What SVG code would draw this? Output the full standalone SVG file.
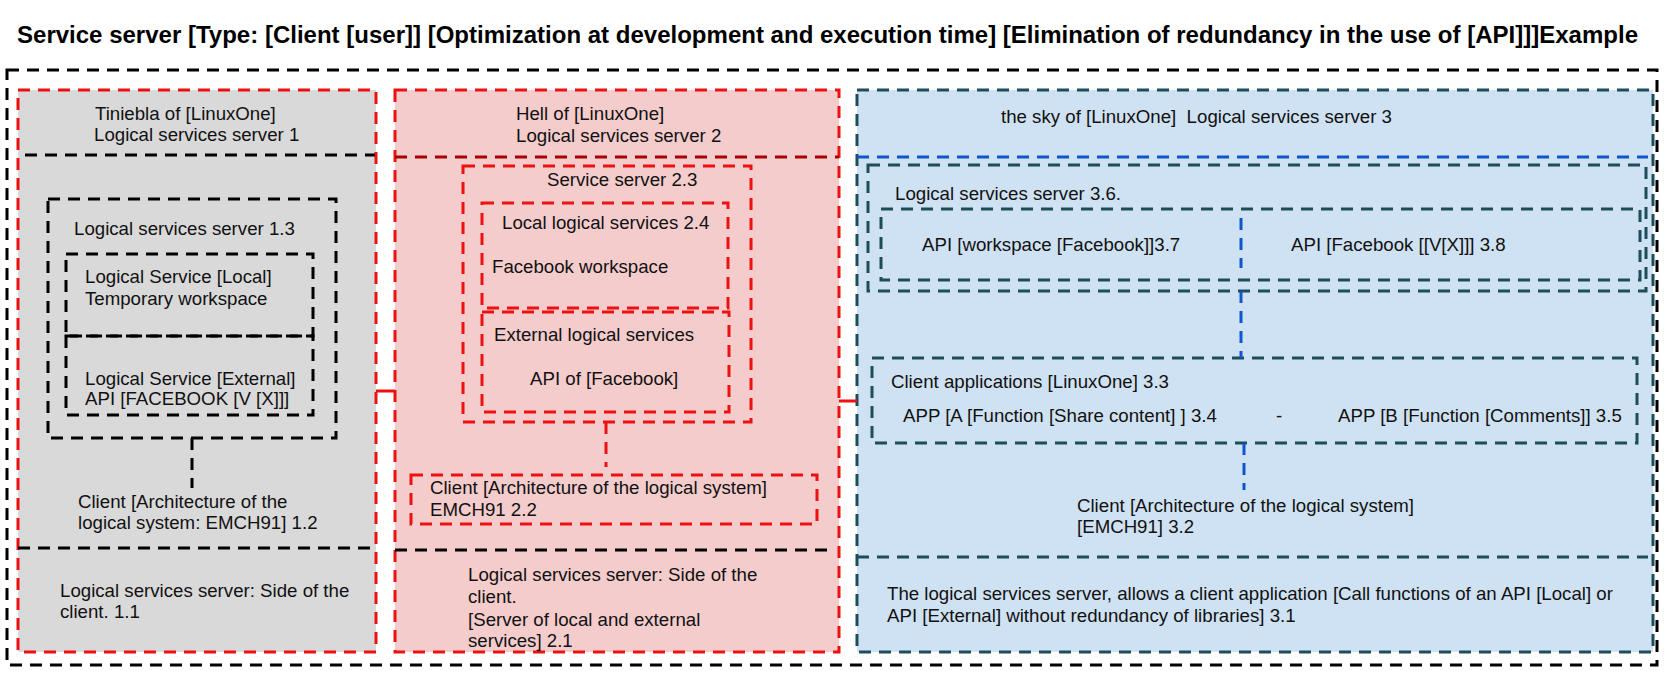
<svg xmlns="http://www.w3.org/2000/svg" width="1677" height="677" viewBox="0 0 1677 677">
<style>
text{font-family:"Liberation Sans",Arial,sans-serif;font-size:18.67px;fill:#111}
.title{font-weight:bold;font-size:23px;fill:#000}
.d{fill:none;stroke-width:3;stroke-dasharray:12 8}
.k{stroke:#000}
.r{stroke:#ee1111}
.dr{stroke:#a80000}
.t{stroke:#1d4d5b}
.b{stroke:#1155cc}
.solid{fill:none;stroke:#ee1111;stroke-width:3}
</style>
<rect width="1677" height="677" fill="#fff"/>
<text class="title" x="17" y="43" textLength="1621" lengthAdjust="spacingAndGlyphs">Service server [Type: [Client [user]] [Optimization at development and execution time] [Elimination of redundancy in the use of [API]]]Example</text>
<rect id="outer" class="d k" x="7" y="70" width="1650" height="595" stroke-width="3.5"/>

<g id="panel1">
<rect x="18" y="90" width="358" height="562" fill="#d9d9d9" class="r" stroke-width="3" stroke-dasharray="12 8"/>
<text x="95" y="120">Tiniebla of [LinuxOne]</text>
<text x="94" y="141">Logical services server 1</text>
<line class="d k" x1="25" y1="155" x2="375" y2="155"/>
<line class="d k" x1="18" y1="548" x2="375" y2="548"/>
<text x="60" y="597">Logical services server: Side of the</text>
<text x="60" y="618">client. 1.1</text>
</g>
<g id="node1-3">
<rect class="d k" x="48" y="199" width="288" height="239"/>
<text x="74" y="235">Logical services server 1.3</text>
</g>
<g id="node1-local">
<rect class="d k" x="66" y="254" width="247" height="82"/>
<text x="85" y="283">Logical Service [Local]</text>
<text x="85" y="305">Temporary workspace</text>
</g>
<g id="node1-external">
<rect class="d k" x="66" y="336" width="247" height="79"/>
<text x="85" y="385">Logical Service [External]</text>
<text x="85" y="405">API [FACEBOOK [V [X]]]</text>
</g>
<g id="node1-2">
<text x="78" y="508">Client [Architecture of the</text>
<text x="78" y="529">logical system: EMCH91] 1.2</text>
</g>

<g id="panel2">
<rect x="395" y="90" width="444" height="562" fill="#f4cccc" class="r" stroke-width="3" stroke-dasharray="12 8"/>
<text x="516" y="120">Hell of [LinuxOne]</text>
<text x="516" y="142">Logical services server 2</text>
<line class="d dr" x1="395" y1="157" x2="839" y2="157"/>
<line class="d k" x1="395" y1="550" x2="830" y2="550"/>
<text x="468" y="581">Logical services server: Side of the</text>
<text x="468" y="603">client.</text>
<text x="468" y="626">[Server of local and external</text>
<text x="468" y="647">services] 2.1</text>
</g>
<g id="node2-3">
<rect class="d r" x="463" y="166" width="288" height="256"/>
<text x="547" y="186">Service server 2.3</text>
</g>
<g id="node2-4">
<rect class="d r" x="482" y="203" width="246" height="105"/>
<text x="502" y="229">Local logical services 2.4</text>
<text x="492" y="273">Facebook workspace</text>
</g>
<g id="node2-ext">
<rect class="d r" x="482" y="312" width="247" height="100"/>
<text x="494" y="341">External logical services</text>
<text x="530" y="385">API of [Facebook]</text>
</g>
<g id="node2-2">
<rect class="d r" x="411" y="475" width="406" height="49"/>
<text x="430" y="494">Client [Architecture of the logical system]</text>
<text x="430" y="516">EMCH91 2.2</text>
</g>

<g id="panel3">
<rect x="857" y="90" width="796" height="562" fill="#cfe2f3" class="t" stroke-width="3" stroke-dasharray="12 8"/>
<text x="1001" y="123" xml:space="preserve">the sky of [LinuxOne]  Logical services server 3</text>
<line class="d b" x1="857" y1="157" x2="1648" y2="157"/>
<line class="d t" x1="857" y1="557" x2="1648" y2="557"/>
<text x="887" y="600">The logical services server, allows a client application [Call functions of an API [Local] or</text>
<text x="887" y="622">API [External] without redundancy of libraries] 3.1</text>
</g>
<g id="node3-6">
<rect class="d t" x="868" y="165" width="778" height="126"/>
<text x="895" y="200">Logical services server 3.6.</text>
<rect class="d t" x="881" y="209" width="759" height="71"/>
<line class="d b" x1="1241" y1="218" x2="1241" y2="268" stroke-dasharray="9 8"/>
</g>
<g id="node3-7"><text x="922" y="251">API [workspace [Facebook]]3.7</text></g>
<g id="node3-8"><text x="1291" y="251">API [Facebook [[V[X]]] 3.8</text></g>
<g id="node3-3">
<rect class="d t" x="872" y="358" width="765" height="85"/>
<text x="891" y="388">Client applications [LinuxOne] 3.3</text>
<text x="903" y="422">APP [A [Function [Share content] ] 3.4</text>
<text x="1276" y="422">-</text>
<text x="1338" y="422">APP [B [Function [Comments]] 3.5</text>
</g>
<g id="node3-2">
<text x="1077" y="512">Client [Architecture of the logical system]</text>
<text x="1077" y="533">[EMCH91] 3.2</text>
</g>

<g id="connectors">
<line class="d k" x1="192" y1="438" x2="192" y2="488"/>
<line class="d r" x1="606" y1="422" x2="606" y2="467"/>
<line class="d b" x1="1241" y1="291" x2="1241" y2="358"/>
<line class="d b" x1="1244" y1="443" x2="1244" y2="490" stroke-dasharray="9 8"/>
<line class="solid" x1="376" y1="391" x2="395" y2="391"/>
<line class="solid" x1="839" y1="401" x2="857" y2="401"/>
</g>
</svg>
